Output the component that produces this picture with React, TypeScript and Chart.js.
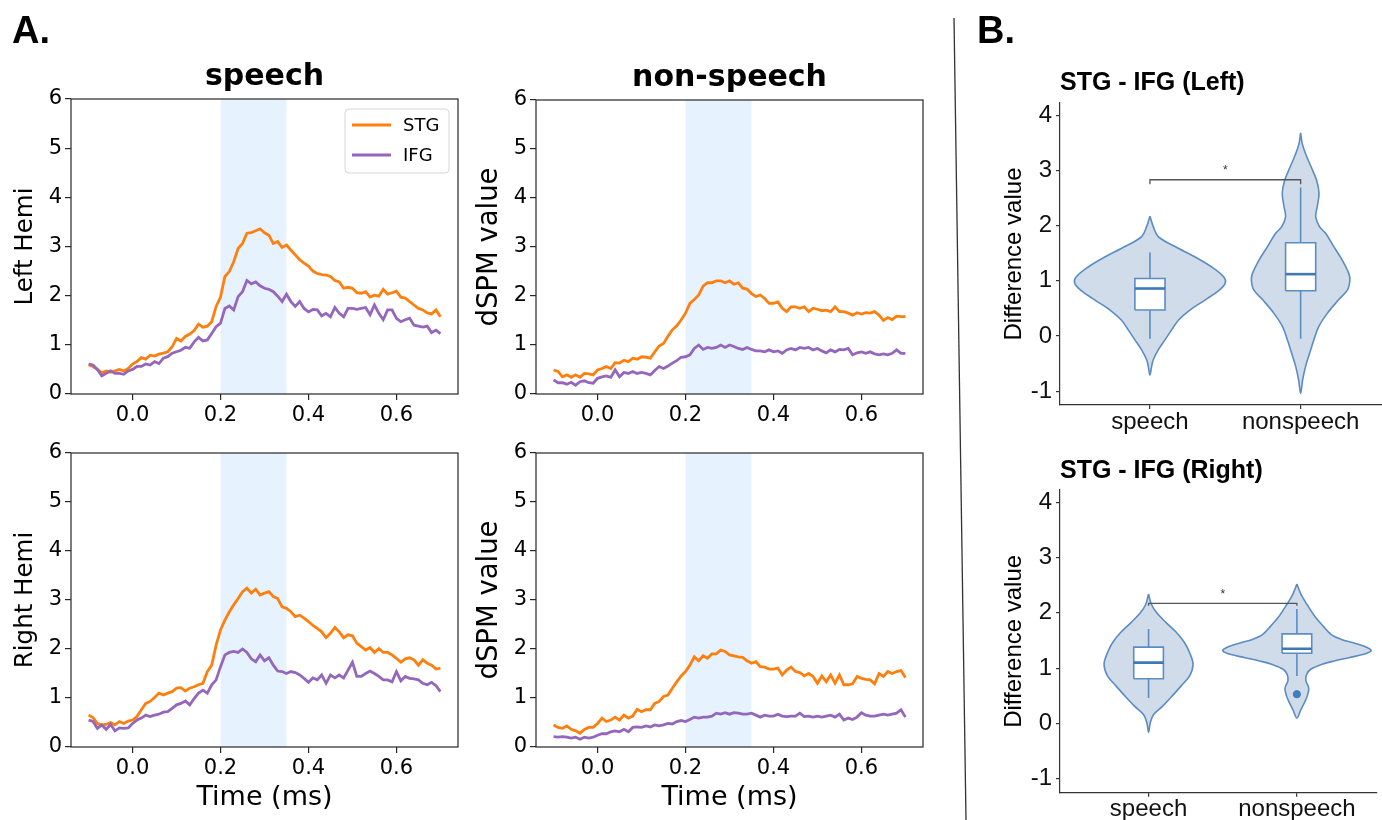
import React, { useEffect, useRef } from 'react';
import { Chart, registerables } from 'chart.js';

Chart.register(...registerables);

// ---------------- data: panel A (time courses) ----------------
const TIMES = [
  -0.10, -0.09, -0.08, -0.07, -0.06, -0.05, -0.04, -0.03, -0.02, -0.01,
  0.00, 0.01, 0.02, 0.03, 0.04, 0.05, 0.06, 0.07, 0.08, 0.09,
  0.10, 0.11, 0.12, 0.13, 0.14, 0.15, 0.16, 0.17, 0.18, 0.19,
  0.20, 0.21, 0.22, 0.23, 0.24, 0.25, 0.26, 0.27, 0.28, 0.29,
  0.30, 0.31, 0.32, 0.33, 0.34, 0.35, 0.36, 0.37, 0.38, 0.39,
  0.40, 0.41, 0.42, 0.43, 0.44, 0.45, 0.46, 0.47, 0.48, 0.49,
  0.50, 0.51, 0.52, 0.53, 0.54, 0.55, 0.56, 0.57, 0.58, 0.59,
  0.60, 0.61, 0.62, 0.63, 0.64, 0.65, 0.66, 0.67, 0.68, 0.69,
  0.70,
];
const X_TICKS = [0, 0.2, 0.4, 0.6];
const Y_TICKS_LINE = [0, 1, 2, 3, 4, 5, 6];
const BAND = [0.2, 0.35];
const SERIES_NAMES = ['STG', 'IFG'];

const SPEECH_LEFT_STG = [
  0.59, 0.56, 0.50, 0.43, 0.47, 0.44, 0.47, 0.50, 0.47, 0.52,
  0.61, 0.66, 0.74, 0.71, 0.79, 0.77, 0.81, 0.83, 0.86, 0.96,
  1.13, 1.08, 1.17, 1.22, 1.29, 1.42, 1.36, 1.38, 1.47, 1.78,
  1.97, 2.39, 2.49, 2.69, 2.96, 3.06, 3.27, 3.28, 3.32, 3.36,
  3.28, 3.23, 3.06, 3.10, 2.98, 3.03, 2.93, 2.83, 2.73, 2.66,
  2.60, 2.50, 2.45, 2.43, 2.42, 2.39, 2.31, 2.28, 2.15, 2.17,
  2.15, 2.06, 2.05, 2.08, 1.97, 2.01, 1.99, 2.13, 2.03, 2.06,
  2.09, 1.97, 1.95, 1.88, 1.81, 1.74, 1.71, 1.65, 1.63, 1.71,
  1.57,
];
const SPEECH_LEFT_IFG = [
  0.61, 0.59, 0.50, 0.37, 0.42, 0.47, 0.42, 0.42, 0.40, 0.47,
  0.50, 0.56, 0.56, 0.61, 0.59, 0.66, 0.62, 0.73, 0.76, 0.83,
  0.86, 0.89, 0.95, 0.93, 1.06, 1.15, 1.08, 1.10, 1.23, 1.37,
  1.44, 1.74, 1.79, 1.71, 1.98, 2.08, 2.31, 2.24, 2.28, 2.20,
  2.15, 2.13, 2.08, 1.99, 1.88, 2.03, 1.88, 1.78, 1.88, 1.74,
  1.67, 1.72, 1.71, 1.59, 1.64, 1.57, 1.76, 1.64, 1.57, 1.74,
  1.74, 1.72, 1.74, 1.76, 1.61, 1.81, 1.64, 1.51, 1.71, 1.71,
  1.54, 1.47, 1.51, 1.54, 1.40, 1.38, 1.36, 1.38, 1.25, 1.30,
  1.23,
];
const NONSPEECH_LEFT_STG = [
  0.49, 0.46, 0.35, 0.39, 0.34, 0.39, 0.34, 0.42, 0.41, 0.39,
  0.49, 0.52, 0.56, 0.52, 0.64, 0.63, 0.69, 0.66, 0.73, 0.71,
  0.76, 0.75, 0.73, 0.86, 0.98, 1.03, 1.18, 1.31, 1.39, 1.51,
  1.65, 1.85, 1.93, 2.02, 2.20, 2.27, 2.27, 2.31, 2.31, 2.27,
  2.31, 2.24, 2.27, 2.16, 2.14, 2.05, 1.99, 2.02, 1.95, 1.85,
  1.85, 1.88, 1.75, 1.68, 1.78, 1.78, 1.75, 1.78, 1.68, 1.75,
  1.73, 1.70, 1.71, 1.68, 1.78, 1.68, 1.68, 1.65, 1.61, 1.66,
  1.63, 1.66, 1.65, 1.68, 1.61, 1.50, 1.56, 1.52, 1.59, 1.58,
  1.58,
];
const NONSPEECH_LEFT_IFG = [
  0.29, 0.23, 0.23, 0.20, 0.24, 0.18, 0.25, 0.27, 0.23, 0.22,
  0.32, 0.35, 0.37, 0.34, 0.49, 0.35, 0.44, 0.42, 0.46, 0.42,
  0.44, 0.42, 0.39, 0.48, 0.56, 0.52, 0.57, 0.63, 0.68, 0.75,
  0.76, 0.80, 0.93, 1.00, 0.91, 0.95, 0.93, 0.95, 1.00, 0.95,
  1.00, 0.97, 0.93, 0.91, 0.95, 0.91, 0.88, 0.88, 0.86, 0.90,
  0.86, 0.88, 0.83, 0.90, 0.93, 0.90, 0.95, 0.93, 0.95, 0.90,
  0.93, 0.88, 0.84, 0.90, 0.86, 0.91, 0.90, 0.93, 0.80, 0.84,
  0.86, 0.83, 0.86, 0.82, 0.80, 0.82, 0.80, 0.83, 0.90, 0.83,
  0.83,
];
const SPEECH_RIGHT_STG = [
  0.65, 0.60, 0.48, 0.45, 0.46, 0.50, 0.45, 0.52, 0.48, 0.53,
  0.55, 0.62, 0.76, 0.89, 0.93, 1.01, 1.10, 1.06, 1.10, 1.13,
  1.20, 1.21, 1.14, 1.20, 1.23, 1.27, 1.30, 1.54, 1.67, 2.08,
  2.39, 2.59, 2.76, 2.90, 3.03, 3.17, 3.24, 3.14, 3.22, 3.10,
  3.14, 3.17, 3.07, 3.03, 2.86, 2.83, 2.76, 2.66, 2.69, 2.63,
  2.56, 2.48, 2.42, 2.35, 2.23, 2.32, 2.44, 2.35, 2.23, 2.29,
  2.27, 2.12, 2.05, 1.98, 2.03, 1.93, 2.01, 1.93, 1.93, 1.88,
  1.81, 1.73, 1.80, 1.82, 1.78, 1.67, 1.78, 1.71, 1.67, 1.59,
  1.61,
];
const SPEECH_RIGHT_IFG = [
  0.55, 0.52, 0.38, 0.45, 0.36, 0.46, 0.33, 0.39, 0.38, 0.39,
  0.48, 0.55, 0.59, 0.65, 0.62, 0.65, 0.67, 0.71, 0.72, 0.79,
  0.86, 0.89, 0.94, 0.86, 0.99, 1.10, 1.16, 1.10, 1.27, 1.37,
  1.64, 1.88, 1.93, 1.95, 1.93, 2.00, 1.93, 1.80, 1.74, 1.88,
  1.76, 1.82, 1.67, 1.55, 1.54, 1.50, 1.54, 1.52, 1.47, 1.40,
  1.32, 1.41, 1.37, 1.47, 1.30, 1.47, 1.41, 1.47, 1.41, 1.57,
  1.73, 1.44, 1.44, 1.50, 1.55, 1.50, 1.44, 1.37, 1.37, 1.33,
  1.54, 1.35, 1.44, 1.40, 1.39, 1.37, 1.30, 1.27, 1.32, 1.25,
  1.13,
];
const NONSPEECH_RIGHT_STG = [
  0.45, 0.40, 0.38, 0.43, 0.36, 0.33, 0.28, 0.36, 0.40, 0.40,
  0.48, 0.59, 0.52, 0.55, 0.61, 0.55, 0.65, 0.59, 0.63, 0.77,
  0.72, 0.76, 0.76, 0.89, 0.93, 1.03, 1.06, 1.20, 1.33, 1.45,
  1.54, 1.67, 1.84, 1.76, 1.86, 1.81, 1.90, 1.90, 1.98, 1.95,
  1.88, 1.86, 1.84, 1.83, 1.76, 1.71, 1.74, 1.64, 1.63, 1.59,
  1.59, 1.61, 1.47, 1.57, 1.63, 1.54, 1.52, 1.45, 1.50, 1.44,
  1.30, 1.45, 1.33, 1.47, 1.30, 1.47, 1.27, 1.27, 1.29, 1.44,
  1.40, 1.38, 1.37, 1.29, 1.50, 1.44, 1.54, 1.50, 1.54, 1.56,
  1.42,
];
const NONSPEECH_RIGHT_IFG = [
  0.21, 0.20, 0.21, 0.20, 0.18, 0.20, 0.16, 0.20, 0.18, 0.20,
  0.24, 0.27, 0.27, 0.31, 0.33, 0.31, 0.36, 0.31, 0.40, 0.41,
  0.40, 0.43, 0.41, 0.45, 0.43, 0.45, 0.48, 0.47, 0.52, 0.54,
  0.52, 0.56, 0.61, 0.59, 0.61, 0.61, 0.63, 0.69, 0.67, 0.70,
  0.67, 0.70, 0.69, 0.67, 0.67, 0.69, 0.65, 0.61, 0.65, 0.63,
  0.63, 0.67, 0.63, 0.62, 0.63, 0.63, 0.69, 0.62, 0.63, 0.61,
  0.63, 0.61, 0.63, 0.65, 0.61, 0.67, 0.55, 0.59, 0.56, 0.61,
  0.70, 0.65, 0.63, 0.63, 0.65, 0.67, 0.65, 0.67, 0.69, 0.76,
  0.61,
];

// ---------------- data: panel B (violins) ----------------
const VIOLIN_CATEGORIES = ['speech', 'nonspeech'];
const VIOLIN_Y_TICKS = [-1, 0, 1, 2, 3, 4];

// density outline: levels (value) and half-width (in category units)
const LEFT_SPEECH_LEVELS = [2.17, 1.98, 1.80, 1.62, 1.43, 1.25, 1.07, 0.96, 0.83, 0.65, 0.47, 0.29, 0.11, -0.07, -0.25, -0.43, -0.55, -0.71];
const LEFT_SPEECH_DENSITY = [0, 0.022, 0.055, 0.166, 0.30, 0.41, 0.49, 0.50, 0.46, 0.365, 0.265, 0.19, 0.144, 0.10, 0.055, 0.022, 0.011, 0];
const LEFT_NONSPEECH_LEVELS = [3.68, 3.48, 3.30, 3.06, 2.82, 2.58, 2.34, 2.16, 1.98, 1.86, 1.62, 1.37, 1.13, 1.01, 0.83, 0.65, 0.41, 0.17, -0.07, -0.31, -0.55, -0.80, -1.04];
const LEFT_NONSPEECH_DENSITY = [0, 0.011, 0.033, 0.07, 0.106, 0.122, 0.11, 0.10, 0.125, 0.166, 0.22, 0.277, 0.32, 0.327, 0.31, 0.25, 0.177, 0.12, 0.088, 0.06, 0.033, 0.013, 0];
const RIGHT_SPEECH_LEVELS = [2.34, 2.16, 2.00, 1.82, 1.64, 1.46, 1.28, 1.07, 0.86, 0.68, 0.50, 0.31, 0.16, 0.01, -0.16];
const RIGHT_SPEECH_DENSITY = [0, 0.018, 0.055, 0.12, 0.19, 0.243, 0.277, 0.30, 0.277, 0.22, 0.16, 0.093, 0.033, 0.011, 0];
const RIGHT_NONSPEECH_LEVELS = [2.52, 2.34, 2.16, 1.94, 1.76, 1.61, 1.52, 1.46, 1.40, 1.35, 1.31, 1.25, 1.19, 1.13, 1.07, 0.98, 0.89, 0.78, 0.64, 0.50, 0.40, 0.25, 0.10];
const RIGHT_NONSPEECH_DENSITY = [0, 0.027, 0.066, 0.12, 0.177, 0.23, 0.30, 0.38, 0.45, 0.49, 0.50, 0.45, 0.35, 0.25, 0.17, 0.093, 0.066, 0.06, 0.08, 0.07, 0.055, 0.027, 0];

// box stats: [lower whisker, q1, median, q3, upper whisker]
const LEFT_SPEECH_BOX = [-0.05, 0.47, 0.86, 1.04, 1.51];
const LEFT_NONSPEECH_BOX = [-0.05, 0.82, 1.12, 1.69, 2.69];
const RIGHT_SPEECH_BOX = [0.46, 0.81, 1.10, 1.38, 1.71];
const RIGHT_NONSPEECH_BOX = [0.86, 1.27, 1.35, 1.62, 2.07];
const LEFT_OUTLIERS: number[][] = [[], []];
const RIGHT_OUTLIERS: number[][] = [[], [0.53]];

// significance bracket: [tick end, bar, star]
const LEFT_SIG = [2.75, 2.83, 3.03];
const RIGHT_SIG = [2.13, 2.17, 2.37];

// ---------------- style ----------------
const STG_COLOR = '#ff7f0e';
const IFG_COLOR = '#9467bd';
const BAND_COLOR = 'rgba(30,144,255,0.11)';
const LINE_FONT = '"DejaVu Sans", sans-serif';
const R_FONT = '"Liberation Sans", Arial, sans-serif';
const VIOLIN_FILL = '#d1dcea';
const VIOLIN_LINE = '#5b8cc2';
const MEDIAN_LINE = '#3f78b5';

// ---------------- plugins ----------------
const frameBandPlugin = {
  id: 'frameBand',
  beforeDatasetsDraw(chart: any) {
    const { ctx, chartArea, scales } = chart;
    const x0 = scales.x.getPixelForValue(BAND[0]);
    const x1 = scales.x.getPixelForValue(BAND[1]);
    ctx.save();
    ctx.fillStyle = BAND_COLOR;
    ctx.fillRect(x0, chartArea.top, x1 - x0, chartArea.bottom - chartArea.top);
    ctx.restore();
  },
  afterDraw(chart: any) {
    const { ctx, chartArea } = chart;
    ctx.save();
    ctx.strokeStyle = '#262626';
    ctx.lineWidth = 1.2;
    ctx.strokeRect(chartArea.left, chartArea.top, chartArea.right - chartArea.left, chartArea.bottom - chartArea.top);
    ctx.restore();
  },
};

function makeTitlePlugin(text: string, font: string, align: 'center' | 'start', offset: number) {
  return {
    id: 'panelTitle',
    afterDraw(chart: any) {
      const { ctx, chartArea } = chart;
      ctx.save();
      ctx.font = font;
      ctx.fillStyle = '#000';
      ctx.textBaseline = 'alphabetic';
      if (align === 'start') {
        ctx.textAlign = 'left';
        ctx.fillText(text, chartArea.left, chartArea.top - offset);
      } else {
        ctx.textAlign = 'center';
        ctx.fillText(text, (chartArea.left + chartArea.right) / 2, chartArea.top - offset);
      }
      ctx.restore();
    },
  };
}

const legendPlugin = {
  id: 'innerLegend',
  afterDraw(chart: any) {
    const { ctx, chartArea } = chart;
    const w = 104, h = 64;
    const bx = chartArea.right - 9 - w;
    const by = chartArea.top + 10;
    ctx.save();
    ctx.beginPath();
    const r = 4;
    ctx.moveTo(bx + r, by);
    ctx.lineTo(bx + w - r, by);
    ctx.quadraticCurveTo(bx + w, by, bx + w, by + r);
    ctx.lineTo(bx + w, by + h - r);
    ctx.quadraticCurveTo(bx + w, by + h, bx + w - r, by + h);
    ctx.lineTo(bx + r, by + h);
    ctx.quadraticCurveTo(bx, by + h, bx, by + h - r);
    ctx.lineTo(bx, by + r);
    ctx.quadraticCurveTo(bx, by, bx + r, by);
    ctx.closePath();
    ctx.fillStyle = 'rgba(255,255,255,0.85)';
    ctx.fill();
    ctx.strokeStyle = '#d6d6d6';
    ctx.lineWidth = 1;
    ctx.stroke();
    const colors = [STG_COLOR, IFG_COLOR];
    SERIES_NAMES.forEach((name, i) => {
      const yy = by + 16 + i * 30;
      ctx.strokeStyle = colors[i];
      ctx.lineWidth = 2.8;
      ctx.beginPath();
      ctx.moveTo(bx + 7, yy);
      ctx.lineTo(bx + 46, yy);
      ctx.stroke();
      ctx.fillStyle = '#000';
      ctx.font = '18px ' + LINE_FONT;
      ctx.textBaseline = 'middle';
      ctx.textAlign = 'left';
      ctx.fillText(name, bx + 58, yy + 1);
    });
    ctx.restore();
  },
};

const polyFillPlugin = {
  id: 'polyFill',
  beforeDatasetDraw(chart: any, args: any) {
    const ds: any = chart.data.datasets[args.index];
    if (!ds.polyFill) return;
    const ctx = chart.ctx;
    const el = args.meta.dataset;
    ctx.save();
    ctx.beginPath();
    if (ds.tension > 0 && el && typeof el.path === 'function') {
      el.path(ctx);
    } else {
      args.meta.data.forEach((p: any, i: number) => (i ? ctx.lineTo(p.x, p.y) : ctx.moveTo(p.x, p.y)));
    }
    ctx.closePath();
    ctx.fillStyle = ds.polyFill;
    ctx.fill();
    ctx.restore();
  },
};

function makeStarPlugin(starY: number) {
  return {
    id: 'sigStar',
    afterDatasetsDraw(chart: any) {
      const { ctx, scales } = chart;
      ctx.save();
      ctx.font = '12px ' + R_FONT;
      ctx.fillStyle = '#333';
      ctx.textAlign = 'center';
      ctx.textBaseline = 'middle';
      ctx.fillText('*', scales.x.getPixelForValue(1.5), scales.y.getPixelForValue(starY) + 2);
      ctx.restore();
    },
  };
}

// ---------------- chart builders ----------------
type LinePanel = {
  stg: number[];
  ifg: number[];
  yTitle: string;
  yTitleSize: number;
  yTitlePad: number;
  yWidth: number;
  xHeight: number;
  padTop: number;
  padRight: number;
  title?: string;
  xTitle?: string;
  legend?: boolean;
};

function buildLine(p: LinePanel): any {
  const tickFont = { family: LINE_FONT, size: 21 };
  const grid = { display: true, drawOnChartArea: false, drawTicks: true, tickLength: 6, color: '#262626', lineWidth: 1.2 };
  const plugins: any[] = [frameBandPlugin];
  if (p.title) plugins.push(makeTitlePlugin(p.title, 'bold 30px ' + LINE_FONT, 'center', 14));
  if (p.legend) plugins.push(legendPlugin);
  return {
    type: 'line',
    data: {
      datasets: [
        {
          label: SERIES_NAMES[0],
          data: TIMES.map((t, i) => ({ x: t, y: p.stg[i] })),
          borderColor: STG_COLOR,
          borderWidth: 2.8,
          pointRadius: 0,
          tension: 0,
          order: 1,
        },
        {
          label: SERIES_NAMES[1],
          data: TIMES.map((t, i) => ({ x: t, y: p.ifg[i] })),
          borderColor: IFG_COLOR,
          borderWidth: 2.8,
          pointRadius: 0,
          tension: 0,
          order: 0,
        },
      ],
    },
    plugins,
    options: {
      animation: false,
      responsive: false,
      events: [],
      layout: { padding: { top: p.padTop, right: p.padRight, left: 0, bottom: 0 } },
      plugins: { legend: { display: false }, tooltip: { enabled: false }, title: { display: false } },
      scales: {
        x: {
          type: 'linear',
          min: -0.14,
          max: 0.74,
          afterBuildTicks: (s: any) => {
            s.ticks = X_TICKS.map((v) => ({ value: v }));
          },
          afterFit: (s: any) => {
            s.height = p.xHeight;
          },
          ticks: { callback: (v: any) => Number(v).toFixed(1), font: tickFont, color: '#000', padding: 3, maxRotation: 0, autoSkip: false },
          grid,
          border: { display: false },
          title: p.xTitle
            ? { display: true, text: p.xTitle, font: { family: LINE_FONT, size: 27 }, color: '#000', padding: { top: 0, bottom: 6 } }
            : { display: false },
        },
        y: {
          type: 'linear',
          min: 0,
          max: 6,
          afterBuildTicks: (s: any) => {
            s.ticks = Y_TICKS_LINE.map((v) => ({ value: v }));
          },
          afterFit: (s: any) => {
            s.width = p.yWidth;
          },
          ticks: { font: tickFont, color: '#000', padding: 3 },
          grid,
          border: { display: false },
          title: { display: true, text: p.yTitle, font: { family: LINE_FONT, size: p.yTitleSize }, color: '#000', padding: { top: p.yTitlePad, bottom: 0 } },
        },
      },
    },
  };
}

type ViolinPanel = {
  title: string;
  levels: number[][];
  density: number[][];
  boxes: number[][];
  outliers: number[][];
  sig: number[];
  padTop: number;
  xHeight: number;
  titleOffset: number;
};

function buildViolin(p: ViolinPanel): any {
  const datasets: any[] = [];
  const BOX_HALF = 0.1;
  VIOLIN_CATEGORIES.forEach((_, i) => {
    const c = i + 1;
    const lv = p.levels[i];
    const dn = p.density[i];
    const pts: any[] = lv.map((v, k) => ({ x: c - dn[k], y: v }));
    for (let k = lv.length - 2; k >= 1; k--) pts.push({ x: c + dn[k], y: lv[k] });
    pts.push({ x: c, y: lv[0] });
    datasets.push({ data: pts, borderColor: VIOLIN_LINE, borderWidth: 1.6, pointRadius: 0, tension: 0.35, polyFill: VIOLIN_FILL, order: 6 });
    const [lo, q1, med, q3, hi] = p.boxes[i];
    datasets.push({ data: [{ x: c, y: lo }, { x: c, y: hi }], borderColor: VIOLIN_LINE, borderWidth: 1.6, pointRadius: 0, tension: 0, order: 5 });
    datasets.push({
      data: [
        { x: c - BOX_HALF, y: q1 },
        { x: c + BOX_HALF, y: q1 },
        { x: c + BOX_HALF, y: q3 },
        { x: c - BOX_HALF, y: q3 },
        { x: c - BOX_HALF, y: q1 },
      ],
      borderColor: VIOLIN_LINE,
      borderWidth: 1.6,
      pointRadius: 0,
      tension: 0,
      polyFill: '#ffffff',
      order: 4,
    });
    datasets.push({ data: [{ x: c - BOX_HALF, y: med }, { x: c + BOX_HALF, y: med }], borderColor: MEDIAN_LINE, borderWidth: 2.6, pointRadius: 0, tension: 0, order: 3 });
    if (p.outliers[i].length) {
      datasets.push({
        data: p.outliers[i].map((v) => ({ x: c, y: v })),
        showLine: false,
        pointRadius: 3.6,
        pointBackgroundColor: '#3f7fc0',
        pointBorderColor: '#3f7fc0',
        order: 1,
      });
    }
  });
  const [drop, bar] = p.sig;
  datasets.push({
    data: [{ x: 1, y: drop }, { x: 1, y: bar }, { x: 2, y: bar }, { x: 2, y: drop }],
    borderColor: '#555',
    borderWidth: 1.3,
    pointRadius: 0,
    tension: 0,
    order: 2,
  });

  const tickFont = { family: R_FONT, size: 24 };
  const grid = { display: true, drawOnChartArea: false, drawTicks: true, tickLength: 4, color: '#333', lineWidth: 1.2 };
  return {
    type: 'line',
    data: { datasets },
    plugins: [polyFillPlugin, makeTitlePlugin(p.title, 'bold 25px ' + R_FONT, 'start', p.titleOffset), makeStarPlugin(p.sig[2])],
    options: {
      animation: false,
      responsive: false,
      events: [],
      layout: { padding: { top: p.padTop, right: 0, left: 0, bottom: 0 } },
      plugins: { legend: { display: false }, tooltip: { enabled: false }, title: { display: false } },
      scales: {
        x: {
          type: 'linear',
          min: 0.403,
          max: 2.54,
          afterBuildTicks: (s: any) => {
            s.ticks = VIOLIN_CATEGORIES.map((_, i) => ({ value: i + 1 }));
          },
          afterFit: (s: any) => {
            s.height = p.xHeight;
          },
          ticks: {
            callback: (v: any) => VIOLIN_CATEGORIES[Math.round(Number(v)) - 1],
            font: { family: R_FONT, size: 24, lineHeight: 1 },
            color: '#111',
            padding: 1,
            maxRotation: 0,
            autoSkip: false,
          },
          grid,
          border: { display: true, color: '#333', width: 1.2 },
        },
        y: {
          type: 'linear',
          min: -1.25,
          max: 4.22,
          afterBuildTicks: (s: any) => {
            s.ticks = VIOLIN_Y_TICKS.map((v) => ({ value: v }));
          },
          afterFit: (s: any) => {
            s.width = 85;
          },
          ticks: { callback: (v: any) => String(v), font: tickFont, color: '#111', padding: 4 },
          grid,
          border: { display: true, color: '#333', width: 1.2 },
          title: { display: true, text: 'Difference value', font: { family: R_FONT, size: 24 }, color: '#000', padding: { top: 24.6, bottom: 0 } },
        },
      },
    },
  };
}

// ---------------- components ----------------
function ChartCanvas({ left, top, width, height, build }: { left: number; top: number; width: number; height: number; build: () => any }) {
  const ref = useRef<HTMLCanvasElement>(null);
  useEffect(() => {
    if (!ref.current) return;
    const chart = new Chart(ref.current, build());
    return () => chart.destroy();
  }, []);
  return <canvas ref={ref} width={width} height={height} style={{ position: 'absolute', left, top, width, height }} />;
}

export default function App() {
  return (
    <div style={{ position: 'absolute', left: 0, top: 0, width: 1382, height: 820, overflow: 'hidden', background: '#fff' }}>
      <ChartCanvas
        left={0}
        top={60}
        width={470}
        height={375}
        build={() =>
          buildLine({ stg: SPEECH_LEFT_STG, ifg: SPEECH_LEFT_IFG, yTitle: 'Left Hemi', yTitleSize: 24.5, yTitlePad: 11.3, yWidth: 71, xHeight: 41, padTop: 39, padRight: 12, title: 'speech', legend: true })
        }
      />
      <ChartCanvas
        left={470}
        top={60}
        width={470}
        height={375}
        build={() =>
          buildLine({ stg: NONSPEECH_LEFT_STG, ifg: NONSPEECH_LEFT_IFG, yTitle: 'dSPM value', yTitleSize: 27.5, yTitlePad: 3.5, yWidth: 66, xHeight: 41, padTop: 40, padRight: 17, title: 'non-speech' })
        }
      />
      <ChartCanvas
        left={0}
        top={420}
        width={470}
        height={400}
        build={() =>
          buildLine({ stg: SPEECH_RIGHT_STG, ifg: SPEECH_RIGHT_IFG, yTitle: 'Right Hemi', yTitleSize: 24.5, yTitlePad: 10.8, yWidth: 71, xHeight: 73, padTop: 33, padRight: 12, xTitle: 'Time (ms)' })
        }
      />
      <ChartCanvas
        left={470}
        top={420}
        width={470}
        height={400}
        build={() =>
          buildLine({ stg: NONSPEECH_RIGHT_STG, ifg: NONSPEECH_RIGHT_IFG, yTitle: 'dSPM value', yTitleSize: 27.5, yTitlePad: 3.5, yWidth: 66, xHeight: 73, padTop: 33, padRight: 17, xTitle: 'Time (ms)' })
        }
      />
      <ChartCanvas
        left={975}
        top={50}
        width={407}
        height={390}
        build={() =>
          buildViolin({
            title: 'STG - IFG (Left)',
            levels: [LEFT_SPEECH_LEVELS, LEFT_NONSPEECH_LEVELS],
            density: [LEFT_SPEECH_DENSITY, LEFT_NONSPEECH_DENSITY],
            boxes: [LEFT_SPEECH_BOX, LEFT_NONSPEECH_BOX],
            outliers: LEFT_OUTLIERS,
            sig: LEFT_SIG,
            padTop: 53,
            xHeight: 35,
            titleOffset: 13,
          })
        }
      />
      <ChartCanvas
        left={975}
        top={440}
        width={407}
        height={400}
        build={() =>
          buildViolin({
            title: 'STG - IFG (Right)',
            levels: [RIGHT_SPEECH_LEVELS, RIGHT_NONSPEECH_LEVELS],
            density: [RIGHT_SPEECH_DENSITY, RIGHT_NONSPEECH_DENSITY],
            boxes: [RIGHT_SPEECH_BOX, RIGHT_NONSPEECH_BOX],
            outliers: RIGHT_OUTLIERS,
            sig: RIGHT_SIG,
            padTop: 50,
            xHeight: 47.3,
            titleOffset: 12,
          })
        }
      />
      <svg width={1382} height={820} style={{ position: 'absolute', left: 0, top: 0, pointerEvents: 'none' }}>
        <line x1={954} y1={18} x2={966} y2={820} stroke="#333" strokeWidth={1.3} />
      </svg>
      <div style={{ position: 'absolute', left: 12, top: 11, font: 'bold 38px "Liberation Sans", Arial, sans-serif', lineHeight: '38px', color: '#000' }}>A.</div>
      <div style={{ position: 'absolute', left: 977, top: 11, font: 'bold 38px "Liberation Sans", Arial, sans-serif', lineHeight: '38px', color: '#000' }}>B.</div>
    </div>
  );
}
